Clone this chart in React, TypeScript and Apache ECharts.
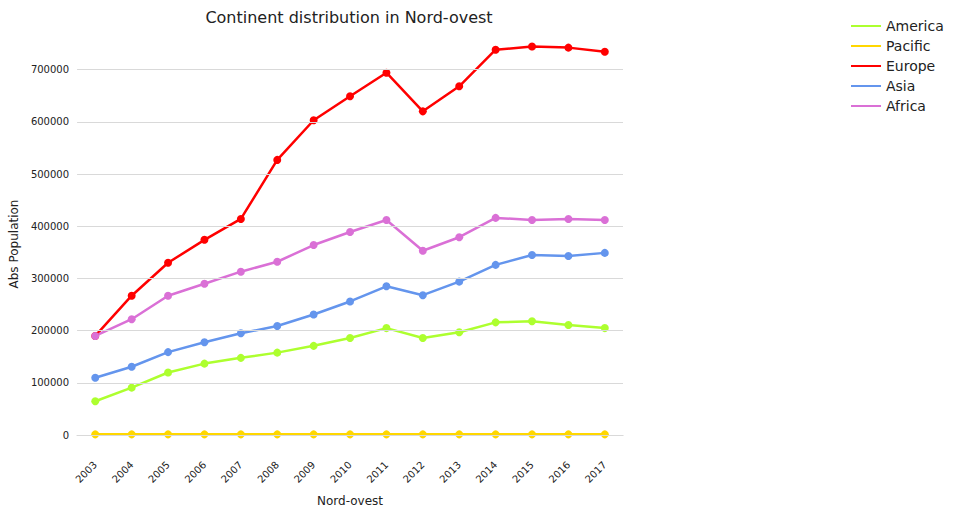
import { useEffect, useRef } from "react";
import * as echarts from "echarts";

const years = ["2003","2004","2005","2006","2007","2008","2009","2010","2011","2012","2013","2014","2015","2016","2017"];
const america = [65000,91000,120000,137000,148000,158000,171000,186000,205000,186000,197000,216000,218000,211000,205000];
const pacific = [1500,1500,1500,1500,1500,1500,1500,1500,1500,1500,1500,1500,1500,1500,1500];
const europe = [190000,267000,330000,374000,414000,527000,603000,649000,694000,620000,668000,738000,744000,742000,734000];
const asia = [110000,131000,159000,178000,195000,209000,231000,256000,285000,268000,294000,326000,345000,343000,349000];
const africa = [190000,222000,267000,290000,313000,332000,364000,389000,412000,353000,379000,416000,412000,414000,412000];
const yTicks = [0,100000,200000,300000,400000,500000,600000,700000];

const seriesDefs = [
  { name: "America", data: america, color: "#adff2f" },
  { name: "Pacific", data: pacific, color: "#ffd700" },
  { name: "Europe", data: europe, color: "#ff0000" },
  { name: "Asia", data: asia, color: "#6495ed" },
  { name: "Africa", data: africa, color: "#da70d6" },
];

export default function App() {
  const ref = useRef<HTMLDivElement>(null);

  useEffect(() => {
    document.body.style.margin = "0";
    if (!ref.current) return;
    const chart = echarts.init(ref.current, null, { renderer: "svg" });
    chart.setOption({
      animation: false,
      textStyle: { fontFamily: "DejaVu Sans" },
      title: {
        text: "Continent distribution in Nord-ovest",
        left: 344,
        top: 4,
        textAlign: "center",
        textStyle: { fontSize: 16, fontWeight: "normal", color: "#222" },
      },
      legend: {
        orient: "vertical",
        left: 846,
        top: 14,
        itemGap: 6,
        itemWidth: 30,
        icon: "path://M0,0 L30,0 L30,2 L0,2 Z",
        textStyle: { fontSize: 14, color: "#222" },
        data: seriesDefs.map((s) => s.name),
      },
      grid: { left: 66, right: 335, top: 33, bottom: 53 },
      xAxis: {
        type: "category",
        data: years,
        name: "Nord-ovest",
        nameLocation: "middle",
        nameGap: 40,
        nameTextStyle: { fontSize: 12, color: "#222" },
        axisLine: { lineStyle: { color: "#ccc" } },
        axisTick: { show: false },
        axisLabel: { rotate: 45, fontSize: 10, color: "#222", margin: 8 },
      },
      yAxis: {
        type: "value",
        min: -38000,
        max: 770000,
        name: "Abs Population",
        nameLocation: "middle",
        nameGap: 53,
        nameTextStyle: { fontSize: 12, color: "#222" },
        axisLine: { show: false },
        axisTick: { show: false },
        splitLine: { show: false },
        axisLabel: { customValues: yTicks, fontSize: 10, color: "#222", formatter: (v: number) => String(v) },
      },
      series: [
        {
          type: "line",
          data: [],
          silent: true,
          markLine: {
            silent: true,
            symbol: "none",
            label: { show: false },
            lineStyle: { color: "#d9d9d9", type: "solid", width: 1 },
            data: yTicks.map((v) => ({ yAxis: v })),
          },
        },
        ...seriesDefs.map((s) => ({
          name: s.name,
          type: "line",
          data: s.data,
          color: s.color,
          symbol: "circle",
          symbolSize: 8,
          lineStyle: { width: 2.5 },
        })),
      ],
    });
    return () => chart.dispose();
  }, []);

  return <div ref={ref} style={{ width: 958, height: 512 }} />;
}
